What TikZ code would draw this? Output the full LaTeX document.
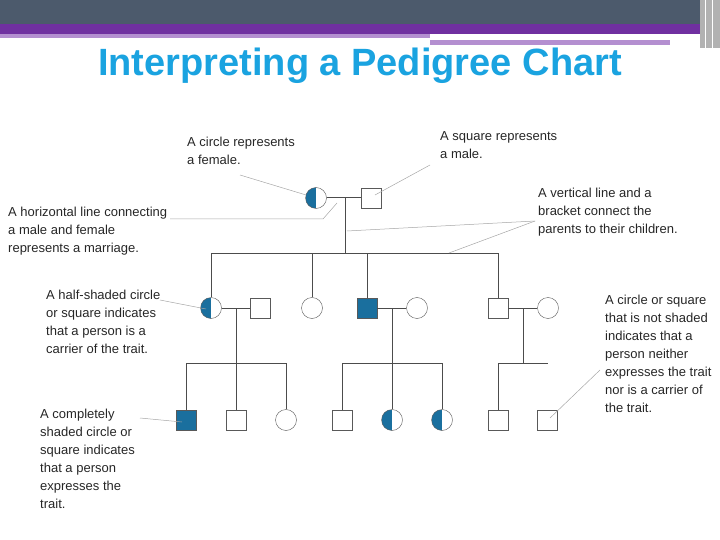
\documentclass[tikz,border=0pt]{standalone}
\usepackage{fontspec}
\setmainfont{Liberation Sans}
\usetikzlibrary{positioning}
\definecolor{slate}{HTML}{4C5A6C}
\definecolor{band}{HTML}{7030A0}
\definecolor{lightband}{HTML}{B48FD0}
\definecolor{titleblue}{HTML}{1AA3E0}
\definecolor{trait}{HTML}{1A6F9E}
\begin{document}
\begin{tikzpicture}[
    x=1pt, y=-1pt,
    male/.style={rectangle, draw=gray!70!black, fill=white, minimum size=20pt, inner sep=0pt},
    female/.style={circle, draw=gray!70!black, fill=white, minimum size=21pt, inner sep=0pt},
    affected/.style={fill=trait},
    carrier/.style={path picture={\fill[trait] (path picture bounding box.south west) rectangle (path picture bounding box.north);}},
    link/.style={draw=gray!60!black, line width=1pt},
    callout/.style={draw=gray!70, line width=0.5pt},
    note/.style={anchor=north west, align=left, inner sep=0pt, font=\fontsize{13}{18}\selectfont, text=black!85}
]
\useasboundingbox (0,0) rectangle (720,540);

% header bands
\fill[slate] (0,0) rectangle (720,24);
\fill[band] (0,24) rectangle (720,34);
\fill[lightband] (0,34) rectangle (430,38);
\fill[lightband] (430,40) rectangle (670,45);
\fill[gray!60] (700,0) rectangle (720,48);
\draw[white, line width=1pt] (705,0) -- (705,48) (712,0) -- (712,48);

% title
\node (title) at (360,66) {\fontsize{38}{44}\bfseries\color{titleblue}Interpreting a Pedigree Chart};

% generation I
\node (g1f) at (316,198) [female, carrier] {};
\node (g1m) at (371,198) [male] {};

% generation II
\node (g2a) at (211,308) [female, carrier] {};
\node (g2b) at (260,308) [male] {};
\node (g2c) at (312,308) [female] {};
\node (g2d) at (367,308) [male, affected] {};
\node (g2e) at (417,308) [female] {};
\node (g2f) at (498,308) [male] {};
\node (g2g) at (548,308) [female] {};

% generation III
\node (g3a) at (186,420) [male, affected] {};
\node (g3b) at (236,420) [male] {};
\node (g3c) at (286,420) [female] {};
\node (g3d) at (342,420) [male] {};
\node (g3e) at (392,420) [female, carrier] {};
\node (g3f) at (442,420) [female, carrier] {};
\node (g3g) at (498,420) [male] {};
\node (g3h) at (547,420) [male] {};

% marriages and sibships
\coordinate (m1) at (345,198);
\coordinate (s1) at (345,253);
\draw[link] (g1f) -- (g1m);
\draw[link] (m1) -- (s1);
\draw[link] (211,253) -- (498,253);
\foreach \k in {g2a, g2c, g2d, g2f}
    \draw[link] (\k.north |- s1) -- (\k);

\coordinate (m2) at (236,308);
\coordinate (m3) at (392,308);
\coordinate (m4) at (523,308);
\draw[link] (g2a) -- (g2b);
\draw[link] (g2d) -- (g2e);
\draw[link] (g2f) -- (g2g);
\draw[link] (m2) -- (236,363);
\draw[link] (m3) -- (g3e);
\draw[link] (m4) -- (523,363);
\draw[link] (186,363) -- (286,363);
\draw[link] (342,363) -- (442,363);
\draw[link] (498,363) -- (548,363);
\foreach \k in {g3a, g3b, g3c, g3d, g3f, g3g}
    \draw[link] (\k.north |- 0,363) -- (\k);

% notes
\node (n_circle) at (187,137) [note] {A circle represents\\a female.};
\node (n_square) at (440,131) [note] {A square represents\\a male.};
\node (n_marriage) at (8,207) [note] {A horizontal line connecting\\a male and female\\represents a marriage.};
\node (n_bracket) at (538,188) [note] {A vertical line and a\\bracket connect the\\parents to their children.};
\node (n_carrier) at (46,290) [note] {A half-shaded circle\\or square indicates\\that a person is a\\carrier of the trait.};
\node (n_affected) at (40,409) [note] {A completely\\shaded circle or\\square indicates\\that a person\\expresses the\\trait.};
\node (n_normal) at (605,295) [note] {A circle or square\\that is not shaded\\indicates that a\\person neither\\expresses the trait\\nor is a carrier of\\the trait.};

% callouts
\draw[callout] (240,175) -- (g1f);
\draw[callout] (430,165) -- (375,195);
\draw[callout] (170,219) -- (323,219) -- (337,203);
\draw[callout] (535,221) -- (347,231);
\draw[callout] (535,221) -- (449,253);
\draw[callout] (160,300) -- (206,309);
\draw[callout] (140,418) -- (182,422);
\draw[callout] (600,370) -- (550,418);
\end{tikzpicture}
\end{document}
